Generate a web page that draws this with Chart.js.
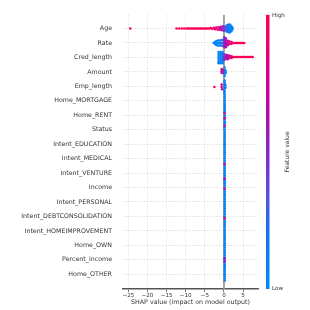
<!DOCTYPE html>
<html><head><meta charset="utf-8">
<script src="https://cdn.jsdelivr.net/npm/chart.js@4/dist/chart.umd.min.js"></script>
<style>html,body{margin:0;padding:0;background:#fff}#wrap{width:310px;height:310px}</style>
</head><body><div id="wrap"><canvas id="c" width="310" height="310"></canvas></div>
<script>
const features = ["Age","Rate","Cred_length","Amount","Emp_length","Home_MORTGAGE","Home_RENT","Status","Intent_EDUCATION","Intent_MEDICAL","Intent_VENTURE","Income","Intent_PERSONAL","Intent_DEBTCONSOLIDATION","Intent_HOMEIMPROVEMENT","Home_OWN","Percent_income","Home_OTHER"];
const xTicks = [-25,-20,-15,-10,-5,0,5];

// points: [shap value, vertical jitter (rows), feature value 0..1]
const agePts = [
[-24.5,0,0.9],
[-12.4,0,1],[-11.7,0,1],[-11.0,0,1],[-10.4,0,1],
[-9.8,0,1],[-9.4,0,1],[-9.0,0,1],[-8.6,0,1],[-8.2,0,1],[-7.8,0,1],[-7.4,0,1],[-7.0,0,1],[-6.6,0,1],[-6.2,0,1],[-5.8,0,1],[-5.4,0,1],[-5.0,0,1],[-4.6,0,1],[-4.2,0,1],[-3.8,0,1],
[-3.4,-0.03,0.95],[-3.0,0.03,0.95],[-2.6,-0.05,0.9],[-2.3,0.05,0.9],[-2.0,-0.07,0.88],[-1.7,0.07,0.85],[-1.4,-0.09,0.8],[-1.2,0.09,0.8],[-1.0,0,0.75],[-0.8,-0.12,0.7],[-0.6,0.12,0.65],[-0.4,0,0.6],[-0.2,-0.15,0.55],[0,0.15,0.5],[0,0,0.5],
[0.3,-0.1,0.4],[0.3,0.08,0.35],
[0.7,-0.2,0.3],[0.7,-0.05,0.3],[0.7,0.1,0.3],[0.7,0.2,0.25],
[1.1,-0.26,0.15],[1.1,-0.12,0.15],[1.1,0.02,0.15],[1.1,0.14,0.15],[1.1,0.24,0.15],
[1.5,-0.28,0.05],[1.5,-0.15,0.05],[1.5,-0.02,0.05],[1.5,0.1,0.05],[1.5,0.2,0.05],[1.5,0.28,0.05],
[1.9,-0.18,0.05],[1.9,-0.05,0.05],[1.9,0.08,0.05],[1.9,0.19,0.05],
[2.2,-0.06,0.05],[2.2,0.06,0.05]
];
const ratePts = [
[-2.7,0,0.05],[-2.3,-0.08,0.05],[-2.3,0.08,0.05],[-1.9,-0.14,0.05],[-1.9,0.02,0.05],[-1.9,0.15,0.05],[-1.5,-0.17,0.05],[-1.5,0,0.05],[-1.5,0.17,0.05],[-1.1,-0.17,0.05],[-1.1,0,0.05],[-1.1,0.17,0.05],[-0.7,-0.18,0.1],[-0.7,0,0.1],[-0.7,0.18,0.1],[-0.3,-0.2,0.25],[-0.3,0,0.25],[-0.3,0.2,0.25],
[0.1,-0.4,0.5],[0.1,-0.26,0.5],[0.1,-0.12,0.55],[0.1,0.02,0.5],[0.1,0.16,0.55],[0.1,0.3,0.5],
[0.5,-0.3,0.6],[0.5,-0.15,0.6],[0.5,0,0.62],[0.5,0.15,0.6],[0.5,0.3,0.6],
[1.0,-0.15,0.75],[1.0,0,0.75],[1.0,0.15,0.75],[1.5,-0.1,0.85],[1.5,0.06,0.85],[2.0,-0.06,0.9],[2.0,0.06,0.9],[2.5,0,0.95],[2.9,0,1],[3.3,0,1],[3.7,0,1],[4.1,0,1],[4.5,0,1],[4.9,0,1],[5.3,0,1]
];
const credPts = [
[-1.4,-0.38,0.05],[-1.4,-0.24,0.05],[-1.4,-0.1,0.05],[-1.4,0.04,0.05],[-1.4,0.18,0.05],[-1.4,0.32,0.05],[-1.4,0.4,0.05],
[-0.9,-0.38,0.05],[-0.9,-0.24,0.05],[-0.9,-0.1,0.05],[-0.9,0.04,0.05],[-0.9,0.18,0.05],[-0.9,0.32,0.05],[-0.9,0.4,0.05],
[-0.4,-0.38,0.05],[-0.4,-0.24,0.05],[-0.4,-0.1,0.05],[-0.4,0.04,0.05],[-0.4,0.18,0.05],[-0.4,0.32,0.05],[-0.4,0.4,0.05],
[0.0,-0.2,0.45],[0.0,-0.06,0.45],[0.0,0.08,0.45],[0.0,0.2,0.45],
[0.5,-0.18,0.6],[0.5,-0.04,0.6],[0.5,0.1,0.6],[1.0,-0.15,0.7],[1.0,0,0.7],[1.0,0.13,0.7],[1.5,-0.12,0.8],[1.5,0.03,0.8],[2.0,-0.08,0.85],[2.0,0.04,0.85],
[2.4,-0.03,0.95],[2.8,-0.03,0.95],[3.2,-0.03,1],[3.6,-0.03,1],[4.0,-0.03,1],[4.4,-0.03,1],[4.8,-0.03,1],[5.2,-0.03,1],[5.6,-0.03,1],[6.0,-0.03,1],[6.4,-0.03,1],[6.8,-0.03,1],[7.2,-0.03,1],[7.5,-0.03,1]
];
const amountPts = [
[0.15,-0.3,0.05],[0.15,-0.15,0.05],[0.15,0,0.05],[0.15,0.15,0.05],[0.15,0.28,0.05],[0.45,-0.08,0.1],[0.45,0.08,0.1],
[-0.6,-0.2,0.85],[-0.6,-0.05,0.9],[-0.6,0.08,0.8],[-0.3,-0.12,0.6],[-0.3,0.05,0.55]
];
const empPts = [
[-2.5,0.05,0.95],[-0.6,-0.12,0.8],[-0.6,0.05,0.85],[-0.5,0.2,0.75],
[0.15,-0.4,0.05],[0.15,-0.26,0.05],[0.15,-0.12,0.05],[0.15,0.02,0.05],[0.15,0.16,0.05],[0.15,0.3,0.05],[0.15,0.42,0.05],[0.4,-0.1,0.1],[0.4,0.1,0.1]
];
const homeMortgagePts = [[0.2,-0.44,0.05],[0.2,-0.3,0.05],[0.2,-0.15,0.05],[0.2,0,0.05],[0.2,0.15,0.05],[0.2,0.3,0.05],[0.2,0.44,0.05]];
const homeRentPts = [[0.2,-0.44,0.05],[0.2,-0.3,0.05],[0.2,-0.15,0.05],[0.2,0,0.05],[0.2,0.15,0.05],[0.2,0.3,0.05],[0.2,0.44,0.05],[0.15,-0.15,0.85],[0.15,0.2,0.85]];
const statusPts = [[0.2,-0.44,0.05],[0.2,-0.3,0.05],[0.2,-0.15,0.05],[0.2,0,0.05],[0.2,0.15,0.05],[0.2,0.3,0.05],[0.2,0.44,0.05],[0.15,-0.27,0.85]];
const intentEducationPts = [[0.2,-0.44,0.05],[0.2,-0.3,0.05],[0.2,-0.15,0.05],[0.2,0,0.05],[0.2,0.15,0.05],[0.2,0.3,0.05],[0.2,0.44,0.05]];
const intentMedicalPts = [[0.2,-0.44,0.05],[0.2,-0.3,0.05],[0.2,-0.15,0.05],[0.2,0,0.05],[0.2,0.15,0.05],[0.2,0.3,0.05],[0.2,0.44,0.05],[0.15,0.38,0.8]];
const intentVenturePts = [[0.2,-0.44,0.05],[0.2,-0.3,0.05],[0.2,-0.15,0.05],[0.2,0,0.05],[0.2,0.15,0.05],[0.2,0.3,0.05],[0.2,0.44,0.05],[0.15,0.4,0.8]];
const incomePts = [[0.2,-0.44,0.05],[0.2,-0.3,0.05],[0.2,-0.15,0.05],[0.2,0,0.05],[0.2,0.15,0.05],[0.2,0.3,0.05],[0.2,0.44,0.05],[0.15,0.08,0.85]];
const intentPersonalPts = [[0.2,-0.44,0.05],[0.2,-0.3,0.05],[0.2,-0.15,0.05],[0.2,0,0.05],[0.2,0.15,0.05],[0.2,0.3,0.05],[0.2,0.44,0.05]];
const intentDebtPts = [[0.2,-0.44,0.05],[0.2,-0.3,0.05],[0.2,-0.15,0.05],[0.2,0,0.05],[0.2,0.15,0.05],[0.2,0.3,0.05],[0.2,0.44,0.05],[0.15,0.13,0.9]];
const intentHomePts = [[0.2,-0.44,0.05],[0.2,-0.3,0.05],[0.2,-0.15,0.05],[0.2,0,0.05],[0.2,0.15,0.05],[0.2,0.3,0.05],[0.2,0.44,0.05]];
const homeOwnPts = [[0.2,-0.44,0.05],[0.2,-0.3,0.05],[0.2,-0.15,0.05],[0.2,0,0.05],[0.2,0.15,0.05],[0.2,0.3,0.05],[0.2,0.44,0.05]];
const percentIncomePts = [[0.2,-0.44,0.05],[0.2,-0.3,0.05],[0.2,-0.15,0.05],[0.2,0,0.05],[0.2,0.15,0.05],[0.2,0.3,0.05],[0.2,0.44,0.05],[0.15,-0.1,0.6],[0.15,0.1,0.65]];
const homeOtherPts = [[0.2,-0.44,0.05],[0.2,-0.3,0.05],[0.2,-0.15,0.05],[0.2,0,0.05],[0.2,0.15,0.05],[0.2,0.3,0.05],[0.2,0.44,0.05]];

const rows = [agePts,ratePts,credPts,amountPts,empPts,homeMortgagePts,homeRentPts,statusPts,intentEducationPts,intentMedicalPts,intentVenturePts,incomePts,intentPersonalPts,intentDebtPts,intentHomePts,homeOwnPts,percentIncomePts,homeOtherPts];

const stops = [[0,[0,138,250]],[0.2,[20,115,242]],[0.35,[90,80,222]],[0.5,[135,40,200]],[0.65,[178,10,172]],[0.8,[218,0,138]],[1,[255,0,82]]];
function colorAt(t){
  for(let i=1;i<stops.length;i++){
    if(t<=stops[i][0]){
      const a=stops[i-1],b=stops[i],f=(t-a[0])/(b[0]-a[0]);
      const c=a[1].map((v,k)=>Math.round(v+(b[1][k]-v)*f));
      return `rgb(${c[0]},${c[1]},${c[2]})`;
    }
  }
  const c=stops[stops.length-1][1];return `rgb(${c[0]},${c[1]},${c[2]})`;
}

const pts=[];
rows.forEach((r,i)=>r.forEach(p=>pts.push({x:p[0],y:i+p[1],c:p[2]})));

const FONT='"DejaVu Sans"';
const colorbar={id:'cb',afterDraw(chart){
  const {ctx,chartArea:a}=chart;
  const g=ctx.createLinearGradient(0,a.bottom,0,a.top);
  stops.forEach(s=>g.addColorStop(s[0],`rgb(${s[1].join(',')})`));
  ctx.save();
  ctx.fillStyle=g;ctx.fillRect(266,a.top,3.5,a.bottom-a.top);
  ctx.fillStyle='#333';ctx.font='5.6px '+FONT;ctx.textBaseline='middle';ctx.textAlign='left';
  ctx.fillText('High',272,a.top+1);
  ctx.fillText('Low',272,a.bottom);
  ctx.translate(287,(a.top+a.bottom)/2);ctx.rotate(-Math.PI/2);ctx.textAlign='center';
  ctx.font='6px '+FONT;ctx.fillText('Feature value',0,0);
  ctx.restore();
}};

new Chart(document.getElementById('c'),{
  type:'scatter',
  data:{datasets:[
    {type:'line',data:[{x:0,y:-0.95},{x:0,y:18.02}],borderColor:'#999',borderWidth:1,pointRadius:0,order:10},
    {data:pts,pointRadius:1.3,pointBorderWidth:0,pointBackgroundColor:ctx=>colorAt(ctx.raw?ctx.raw.c:0),order:1}
  ]},
  options:{
    responsive:false,animation:false,
    layout:{padding:{left:0,top:10,right:52,bottom:0}},
    plugins:{legend:{display:false},tooltip:{enabled:false}},
    scales:{
      x:{type:'linear',min:-26.4,max:8.9,
        afterBuildTicks:s=>{s.ticks=xTicks.map(v=>({value:v}));},
        afterFit:s=>{s.height=21;},
        ticks:{padding:0,color:'#333',font:{family:'DejaVu Sans',size:5.6},callback:v=>String(v).replace('-','\u2212')},
        grid:{color:'#e0e0e0',lineWidth:0.8,tickLength:3,tickColor:'#555'},
        border:{display:true,color:'#555',width:1.5,dash:[1.5,1.5]},
        title:{display:true,text:'SHAP value (impact on model output)',color:'#333',font:{family:'DejaVu Sans',size:6.3},padding:{top:0,bottom:4}}
      },
      y:{type:'linear',reverse:true,min:-0.95,max:18.02,
        afterBuildTicks:s=>{s.ticks=features.map((f,i)=>({value:i}));},
        afterFit:s=>{s.width=123;},
        ticks:{padding:11,color:'#333',font:{family:'DejaVu Sans',size:6.3},callback:v=>features[v]},
        grid:{color:'#cccccc',lineWidth:0.6,drawTicks:false},
        border:{display:false,dash:[1.5,1.5]}
      }
    }
  },
  plugins:[colorbar]
});
</script></body></html>
